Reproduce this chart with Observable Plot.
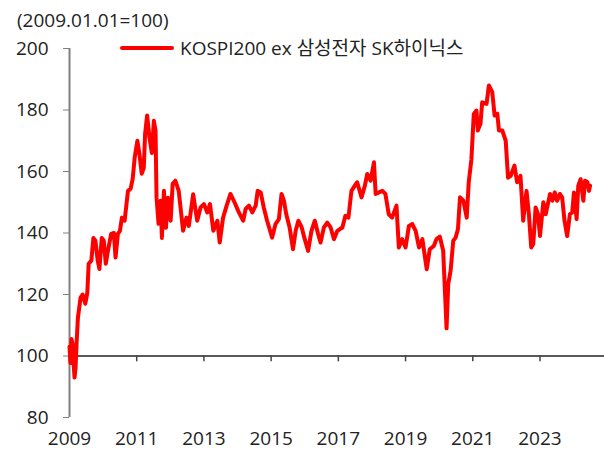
<!DOCTYPE html>
<html>
<head>
<meta charset="utf-8">
<script src="https://cdn.jsdelivr.net/npm/d3@7"></script>
<script src="https://cdn.jsdelivr.net/npm/@observablehq/plot@0.6"></script>
<style>
  html, body { margin: 0; padding: 0; background: #fff; }
  #wrap { position: relative; width: 604px; height: 450px; font-family: "Open Sans", "Noto Sans CJK KR", sans-serif; color: #222; }
  #unit { position: absolute; left: 17px; top: 8px; font-size: 19px; line-height: 24px; white-space: nowrap; }
  #legend { position: absolute; left: 120px; top: 36px; font-size: 19px; line-height: 24px; white-space: nowrap; display: flex; align-items: center; }
  #legend .sw { display: inline-block; width: 54px; height: 4px; background: #ff0000; border-radius: 2px; margin-right: 6px; }
</style>
</head>
<body>
<div id="wrap">
  <div id="chart"></div>
  <div id="unit"></div>
  <div id="legend"></div>
</div>
<script>
const seriesName = "KOSPI200 ex 삼성전자 SK하이닉스";
const unitLabel = "(2009.01.01=100)";
const xTicks = [2009, 2011, 2013, 2015, 2017, 2019, 2021, 2023];
const yTicks = [80, 100, 120, 140, 160, 180, 200];

const years = [
  2009.00, 2009.03, 2009.06, 2009.09, 2009.12, 2009.15, 2009.18, 2009.21, 2009.25, 2009.33,
  2009.39, 2009.47, 2009.53, 2009.57, 2009.65, 2009.71, 2009.77, 2009.84, 2009.89, 2009.96,
  2010.02, 2010.08, 2010.14, 2010.24, 2010.32, 2010.37, 2010.44, 2010.50, 2010.56, 2010.64,
  2010.74, 2010.82, 2010.88, 2010.94, 2011.02, 2011.08, 2011.15, 2011.21, 2011.25, 2011.31,
  2011.38, 2011.45, 2011.51, 2011.56, 2011.59, 2011.65, 2011.71, 2011.75, 2011.81, 2011.87,
  2011.93, 2012.01, 2012.07, 2012.15, 2012.25, 2012.38, 2012.48, 2012.55, 2012.68, 2012.80,
  2012.90, 2013.00, 2013.10, 2013.18, 2013.28, 2013.40, 2013.47, 2013.57, 2013.69, 2013.79,
  2013.91, 2014.04, 2014.17, 2014.24, 2014.34, 2014.44, 2014.54, 2014.60, 2014.69, 2014.78,
  2014.88, 2015.03, 2015.13, 2015.23, 2015.31, 2015.38, 2015.45, 2015.55, 2015.65, 2015.73,
  2015.81, 2015.91, 2016.00, 2016.10, 2016.20, 2016.30, 2016.40, 2016.47, 2016.57, 2016.67,
  2016.77, 2016.87, 2016.97, 2017.12, 2017.21, 2017.30, 2017.39, 2017.49, 2017.56, 2017.69,
  2017.79, 2017.86, 2017.96, 2018.06, 2018.11, 2018.21, 2018.31, 2018.40, 2018.50, 2018.60,
  2018.73, 2018.80, 2018.90, 2019.00, 2019.10, 2019.20, 2019.30, 2019.40, 2019.50, 2019.63,
  2019.72, 2019.84, 2019.92, 2020.02, 2020.12, 2020.22, 2020.27, 2020.34, 2020.42, 2020.49,
  2020.56, 2020.62, 2020.72, 2020.82, 2020.88, 2020.96, 2021.03, 2021.11, 2021.15, 2021.23,
  2021.28, 2021.41, 2021.48, 2021.58, 2021.65, 2021.73, 2021.78, 2021.88, 2021.98, 2022.05,
  2022.13, 2022.24, 2022.32, 2022.42, 2022.50, 2022.60, 2022.67, 2022.74, 2022.80, 2022.87,
  2022.94, 2023.00, 2023.10, 2023.17, 2023.30, 2023.37, 2023.44, 2023.51, 2023.59, 2023.66,
  2023.73, 2023.81, 2023.89, 2023.96, 2024.01, 2024.09, 2024.14, 2024.21, 2024.29, 2024.34,
  2024.41, 2024.46, 2024.49
];
const values = [
  103.0, 97.7, 105.5, 104.0, 98.0, 93.0, 96.0, 104.0, 112.4, 119.0,
  120.0, 117.0, 120.5, 130.0, 131.0, 138.4, 137.5, 131.0, 128.3, 138.4,
  137.5, 130.0, 134.0, 139.7, 140.0, 132.0, 139.7, 140.7, 145.0, 144.0,
  153.7, 154.4, 157.6, 164.5, 170.0, 165.8, 159.3, 161.2, 172.3, 178.2,
  171.0, 166.0, 176.5, 173.3, 151.5, 143.0, 150.5, 138.4, 153.7, 141.7,
  151.5, 144.0, 156.0, 157.0, 153.7, 140.7, 145.0, 142.3, 152.6, 144.0,
  148.3, 149.4, 146.7, 149.4, 140.7, 144.0, 136.9, 145.0, 149.4, 152.7,
  150.0, 146.7, 144.0, 147.8, 148.9, 146.7, 148.9, 153.7, 153.2, 148.3,
  144.0, 138.5, 142.9, 144.5, 152.7, 150.5, 146.1, 141.8, 134.7, 140.7,
  144.0, 141.8, 138.0, 134.2, 140.7, 144.0, 139.6, 136.9, 141.8, 143.4,
  141.8, 138.0, 140.7, 141.8, 145.6, 145.0, 153.7, 155.4, 156.5, 151.6,
  155.4, 159.2, 157.0, 163.0, 152.7, 153.2, 153.7, 152.7, 146.1, 145.0,
  148.9, 135.3, 138.0, 135.3, 142.3, 142.9, 140.7, 135.3, 138.0, 128.2,
  134.7, 135.8, 138.0, 138.8, 134.2, 109.0, 123.4, 127.7, 137.5, 138.5,
  141.3, 151.6, 150.5, 145.0, 156.5, 164.0, 178.7, 179.8, 173.3, 175.6,
  182.5, 182.0, 188.0, 185.8, 178.2, 178.8, 173.3, 173.3, 170.0, 158.0,
  158.6, 161.9, 156.5, 158.6, 144.0, 153.7, 146.1, 135.3, 136.4, 148.3,
  146.1, 139.0, 150.0, 146.1, 152.7, 150.5, 153.2, 150.5, 152.7, 151.6,
  144.0, 139.0, 146.1, 146.7, 153.2, 144.5, 155.4, 157.5, 150.5, 157.0,
  156.5, 153.7, 155.4
];

const data = years.map((y, i) => ({ year: y, value: values[i] }));

const chart = Plot.plot({
  width: 604,
  height: 450,
  marginTop: 48,
  marginBottom: 33,
  marginLeft: 69,
  marginRight: 0,
  style: { fontFamily: '"Open Sans", "Noto Sans CJK KR", sans-serif', fontSize: "19px", color: "#222", background: "#fff" },
  x: { type: "linear", domain: [2009, 2024.92] },
  y: { domain: [80, 200] },
  marks: [
    Plot.ruleX([2009], { stroke: "#808080", strokeWidth: 2 }),
    Plot.axisY({ ticks: yTicks, tickSize: 6, tickPadding: 15, stroke: "#808080", fill: "#222", fontSize: 19, label: null }),
    Plot.axisX({ ticks: xTicks, tickSize: 0, tickPadding: 14, tickFormat: d => String(d), fill: "#222", fontSize: 19, label: null }),
    Plot.ruleY([100], { stroke: "#222", strokeWidth: 1.5 }),
    Plot.ruleX(xTicks, { x: d => d, y1: 100, y2: 98.1, stroke: "#444", strokeWidth: 1.5 }),
    Plot.line(data, { x: "year", y: "value", stroke: "#ff0000", strokeWidth: 4, strokeLinejoin: "round", strokeLinecap: "round" })
  ]
});
document.getElementById("chart").appendChild(chart);
document.getElementById("unit").textContent = unitLabel;
const lg = document.getElementById("legend");
const sw = document.createElement("span"); sw.className = "sw";
const tx = document.createElement("span"); tx.textContent = seriesName;
lg.appendChild(sw); lg.appendChild(tx);
</script>
</body>
</html>
